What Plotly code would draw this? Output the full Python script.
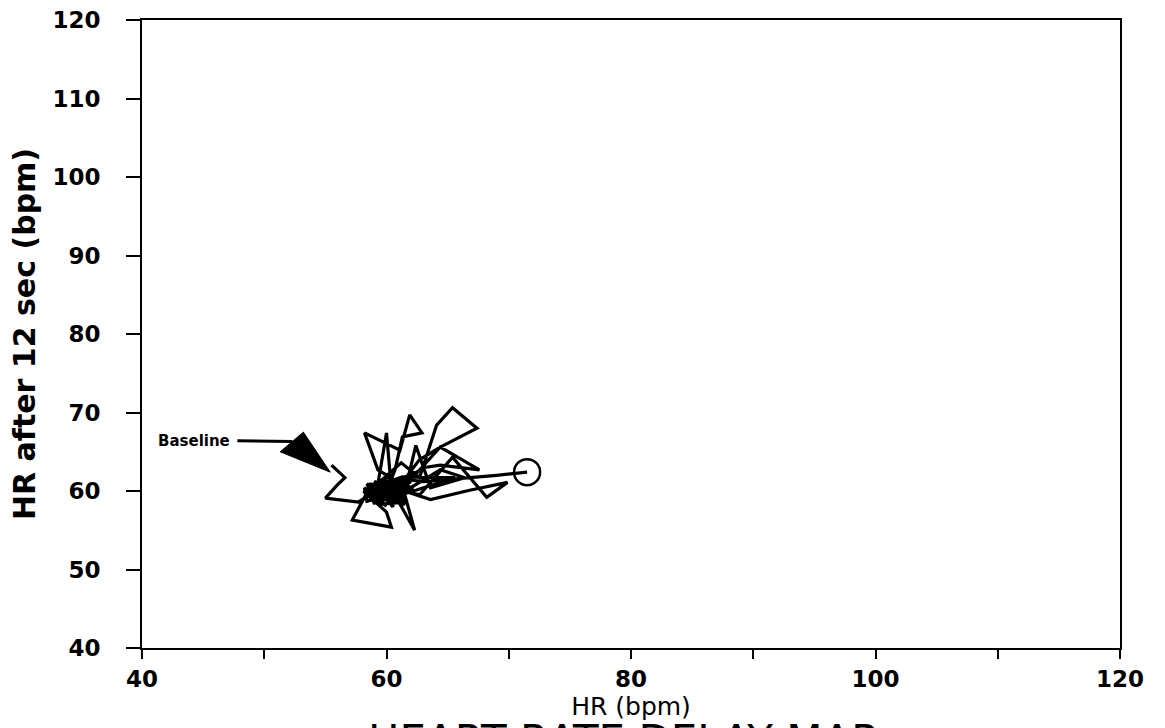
import plotly.graph_objects as go

# Heart-rate delay map trajectory (HR vs HR 12 s later)
hr_now = [55.5, 56.6, 56.0, 55.0, 57.7, 59.0, 60.3, 58.6, 59.4, 61.0,
          59.8, 58.3, 57.2, 60.4, 60.0, 59.1, 60.9, 59.5, 60.7, 59.3,
          58.2, 60.0, 61.1, 61.9, 62.9, 61.3, 60.7, 60.1, 58.9, 61.5,
          62.3, 60.9, 59.6, 61.8, 60.2, 58.8, 61.2, 62.7, 64.1, 65.4,
          67.4, 64.4, 62.7, 60.7, 59.1, 60.0, 60.3, 59.2, 61.4, 62.4,
          63.6, 66.4, 64.4, 61.1, 58.7, 59.9, 61.6, 60.1, 58.4,
          58.2, 60.6, 59.0, 61.4, 58.6, 60.2, 61.7, 59.3, 58.4, 60.9,
          59.6, 61.8, 58.9, 60.4, 62.0, 59.8, 58.1, 61.1, 60.5, 59.4,
          62.2, 60.0, 58.8, 61.5, 60.6,
          60.8, 62.7, 65.4, 68.2, 69.9, 66.8, 63.6, 60.7, 59.3, 60.4,
          61.2, 59.7, 63.1, 64.4, 67.6, 64.4, 62.7, 60.7, 59.5, 61.9,
          60.0, 59.0, 61.3, 65.6, 62.4, 60.3, 61.0, 63.0, 69.0, 71.5]
hr_after = [63.3, 61.7, 60.8, 59.1, 58.6, 59.8, 60.4, 60.9, 59.1, 59.9,
            61.0, 59.5, 56.3, 55.4, 57.3, 58.6, 60.8, 59.5, 61.4, 62.7,
            67.4, 66.1, 65.2, 69.7, 67.4, 66.9, 62.7, 60.4, 59.2, 59.5,
            55.0, 58.9, 60.6, 60.1, 58.7, 60.3, 63.6, 61.7, 68.4, 70.6,
            68.0, 65.6, 64.0, 59.9, 59.1, 67.4, 62.0, 60.7, 59.3, 65.8,
            60.4, 61.7, 62.7, 59.6, 60.1, 58.2, 61.0, 59.4, 58.7,
            60.4, 58.4, 61.2, 60.0, 59.0, 61.3, 58.6, 58.3, 60.9, 59.4,
            61.6, 59.8, 58.4, 60.9, 61.2, 59.0, 59.9, 61.1, 58.0, 60.4,
            60.3, 61.8, 59.6, 58.3, 60.7,
            60.2, 59.5, 64.3, 59.2, 61.1, 60.1, 58.9, 60.4, 59.6, 61.4,
            58.9, 59.9, 63.0, 63.3, 62.7, 65.6, 62.7, 59.2, 60.3, 60.6,
            58.9, 60.5, 61.8, 61.7, 60.1, 59.7, 61.6, 61.2, 62.0, 62.4]

tick_vals = [40, 50, 60, 70, 80, 90, 100, 110, 120]
x_tick_text = ["40", "", "60", "", "80", "", "100", "", "120"]
y_tick_text = ["40", "50", "60", "70", "80", "90", "100", "110", "120"]

# Baseline pointer: label anchor, line end, arrowhead triangle (data units)
baseline_label = (47.4, 66.4)
baseline_line_end = (52.3, 66.3)
baseline_head_x = [53.2, 51.3, 55.4]
baseline_head_y = [67.5, 65.0, 62.4]

FONT = "DejaVu Sans"

fig = go.Figure()
fig.add_trace(go.Scatter(
    x=hr_now, y=hr_after, mode="lines",
    line=dict(color="black", width=3.2),
    hoverinfo="skip", showlegend=False))
fig.add_trace(go.Scatter(
    x=[hr_now[-1]], y=[hr_after[-1]], mode="markers",
    marker=dict(symbol="circle-open", size=26, color="black",
                line=dict(width=2.5, color="black")),
    hoverinfo="skip", showlegend=False))

# arrowhead + line for "Baseline"
path = "M {} {} L {} {} L {} {} Z".format(
    baseline_head_x[0], baseline_head_y[0],
    baseline_head_x[1], baseline_head_y[1],
    baseline_head_x[2], baseline_head_y[2])
fig.add_shape(type="path", path=path, xref="x", yref="y",
              fillcolor="black", line=dict(color="black", width=1))
fig.add_shape(type="line", xref="x", yref="y",
              x0=baseline_label[0] + 0.4, y0=baseline_label[1],
              x1=baseline_line_end[0], y1=baseline_line_end[1],
              line=dict(color="black", width=3))
fig.add_annotation(x=baseline_label[0], y=baseline_label[1], xref="x", yref="y",
                   text="Baseline", showarrow=False, xanchor="right",
                   yanchor="middle",
                   font=dict(family=FONT, size=15, color="black", weight="bold"))

fig.add_annotation(x=0.491, y=-0.105, xref="paper", yref="paper",
                   text="HEART RATE DELAY MAP", showarrow=False,
                   xanchor="center", yanchor="top",
                   font=dict(family=FONT, size=42, color="black"))

axis_common = dict(range=[40, 120], tickvals=tick_vals, showgrid=False,
                   zeroline=False, showline=True, linecolor="black",
                   linewidth=2, mirror=True, ticks="outside",
                   tickcolor="black", tickwidth=2, automargin=False,
                   tickfont=dict(family=FONT, size=23, color="black",
                                 weight="bold"))

fig.update_xaxes(**axis_common, ticktext=x_tick_text, ticklen=9,
                 title=dict(text="HR (bpm)", standoff=0,
                            font=dict(family=FONT, size=25, color="black")))
fig.update_yaxes(**axis_common, ticktext=y_tick_text, ticklen=14,
                 ticklabelstandoff=21,
                 title=dict(text="HR after 12 sec (bpm)", standoff=8,
                            font=dict(family=FONT, size=30, color="black",
                                      weight="bold")))

fig.update_layout(
    width=1165, height=728,
    margin=dict(l=142, r=45, t=20, b=80),
    paper_bgcolor="white", plot_bgcolor="white",
    font=dict(family=FONT, color="black"),
)

fig.write_html("out.html", config={"displayModeBar": False},
               post_script="document.body.style.margin='0';")
